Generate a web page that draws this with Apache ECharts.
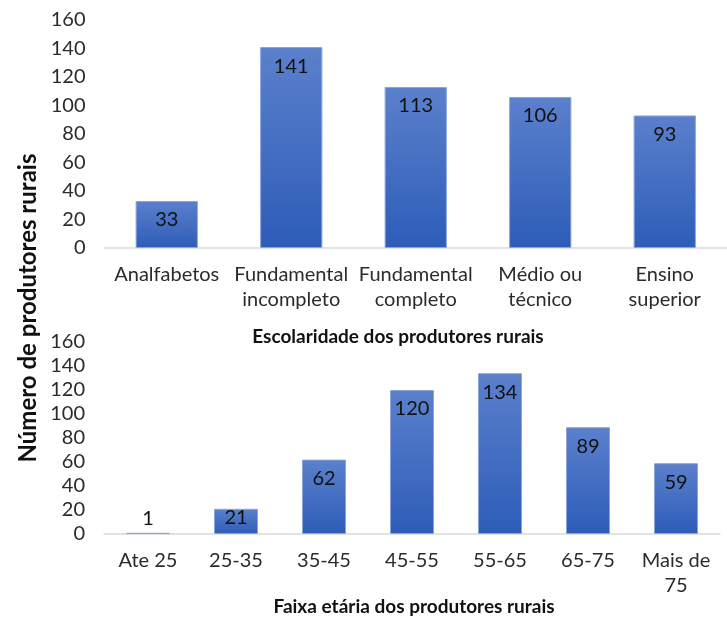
<!DOCTYPE html>
<html>
<head>
<meta charset="utf-8">
<script src="https://cdn.jsdelivr.net/npm/echarts@6/dist/echarts.min.js"></script>
<style>
html,body{margin:0;padding:0;background:#fff;}
#c{width:727px;height:623px;}
</style>
</head>
<body>
<div id="c"></div>
<script>
const eduCategories = ['Analfabetos', 'Fundamental\nincompleto', 'Fundamental\ncompleto', 'Médio ou\ntécnico', 'Ensino\nsuperior'];
const eduValues = [33, 141, 113, 106, 93];
const ageCategories = ['Ate 25', '25-35', '35-45', '45-55', '55-65', '65-75', 'Mais de\n75'];
const ageValues = [1, 21, 62, 120, 134, 89, 59];
const yTicks = [0, 20, 40, 60, 80, 100, 120, 140, 160];
const yTitle = 'Número de produtores rurais';
const eduTitle = 'Escolaridade dos produtores rurais';
const ageTitle = 'Faixa etária dos produtores rurais';

const FONT = 'Lato, "Open Sans", sans-serif';
const barColor = new echarts.graphic.LinearGradient(0, 0, 0, 1, [
  {offset: 0, color: '#5b80cc'},
  {offset: 1, color: '#2d5db8'}
]);

function toData(vals) {
  return vals.map(v => {
    if (v < 10) return {value: v, label: {position: 'top', distance: 4}};
    if (v < 30) return {value: v, label: {position: 'insideTop', distance: -1}};
    return {value: v};
  });
}

function yAxis(idx) {
  return {
    gridIndex: idx, type: 'value', min: yTicks[0], max: yTicks[yTicks.length - 1], interval: 20,
    splitLine: {show: false}, axisLine: {show: false}, axisTick: {show: false},
    axisLabel: {fontFamily: FONT, fontSize: 20, color: '#2b2b2b', margin: 19}
  };
}
function xAxis(idx, cats) {
  return {
    gridIndex: idx, type: 'category', data: cats,
    axisLine: {show: true, lineStyle: {color: '#d9d9d9', width: 1.5}},
    axisTick: {show: false},
    axisLabel: {fontFamily: FONT, fontSize: 20, color: '#2b2b2b', margin: 14, lineHeight: 25, interval: 0}
  };
}
function barSeries(idx, vals) {
  return {
    type: 'bar', xAxisIndex: idx, yAxisIndex: idx, data: toData(vals), barWidth: '50%',
    itemStyle: {color: barColor, borderColor: '#8aa5dc', borderWidth: 1},
    label: {show: true, position: 'insideTop', distance: 9, fontFamily: FONT, fontSize: 20, color: '#111'},
    silent: true
  };
}

const chart = echarts.init(document.getElementById('c'), null, {renderer: 'canvas'});
chart.setOption({
  animation: false,
  backgroundColor: '#fff',
  grid: [
    {left: 104.5, top: 20, width: 635, height: 228},
    {left: 104, top: 342, width: 616, height: 192}
  ],
  xAxis: [xAxis(0, eduCategories), xAxis(1, ageCategories)],
  yAxis: [yAxis(0), yAxis(1)],
  series: [barSeries(0, eduValues), barSeries(1, ageValues)],
  graphic: [
    {type: 'text', x: 28, y: 308, rotation: Math.PI / 2,
     style: {text: yTitle, fontFamily: FONT, fontSize: 24, fontWeight: 'bold', fill: '#111', align: 'center', verticalAlign: 'middle'}},
    {type: 'text', x: 398, y: 337,
     style: {text: eduTitle, fontFamily: FONT, fontSize: 19, fontWeight: 'bold', fill: '#111', align: 'center', verticalAlign: 'middle'}},
    {type: 'text', x: 414, y: 607,
     style: {text: ageTitle, fontFamily: FONT, fontSize: 19, fontWeight: 'bold', fill: '#111', align: 'center', verticalAlign: 'middle'}}
  ]
});
</script>
</body>
</html>
